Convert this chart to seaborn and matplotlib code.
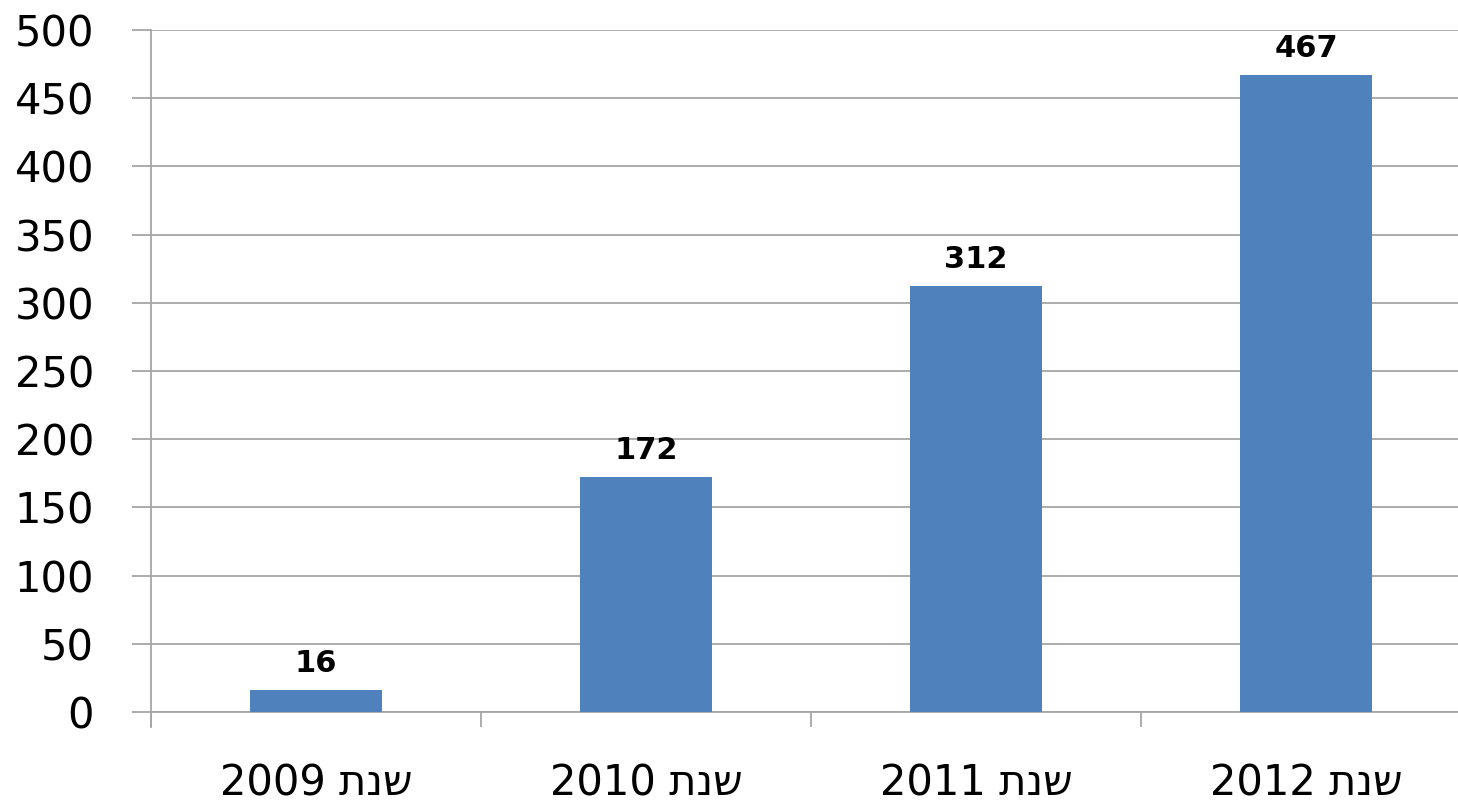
import matplotlib
matplotlib.use("Agg")
import matplotlib.pyplot as plt
import seaborn as sns
import pandas as pd
from matplotlib.ticker import FixedLocator, NullFormatter

# Data
years = ["2009", "2010", "2011", "2012"]
values = [16, 172, 312, 467]
label_word = "שנת"
# matplotlib has no bidi support: compose labels in visual order
tick_labels = [f"{y} {label_word[::-1]}" for y in years]

sns.set_theme(style="white")
plt.rcParams['font.family'] = ['DejaVu Sans']

df = pd.DataFrame({"year": years, "value": values})

W, H = 1458, 805
fig = plt.figure(figsize=(W / 100, H / 100), dpi=100)
ax = fig.add_axes([151 / W, 1 - 712 / H, 1320 / W, (712 - 30) / H])

sns.barplot(data=df, x="year", y="value", color="#4F81BD", width=0.4,
            saturation=1, ax=ax, zorder=3, linewidth=0, edgecolor="none")

ax.set_xlim(-0.5, 3.5)
ax.set_ylim(0, 500)
ax.set_yticks(range(0, 501, 50))
ax.yaxis.grid(True, color="#a6a6a6", linewidth=1.3, zorder=0)
ax.xaxis.grid(False)

# category boundary ticks as major, labels on minor
ax.xaxis.set_major_locator(FixedLocator([-0.5, 0.5, 1.5, 2.5, 3.5]))
ax.xaxis.set_major_formatter(NullFormatter())
ax.xaxis.set_minor_locator(FixedLocator(range(len(years))))
ax.set_xticklabels(tick_labels, minor=True)
ax.tick_params(axis="x", which="major", length=11, width=1.3, color="#a6a6a6",
               direction="out", bottom=True)
ax.tick_params(axis="x", which="minor", length=0, pad=36, labelsize=30,
               labelcolor="black")
ax.tick_params(axis="y", length=14, width=1.3, color="#a6a6a6", direction="out",
               left=True, pad=27, labelsize=30, labelcolor="black")

for s in ["top", "right"]:
    ax.spines[s].set_visible(False)
for s in ["left", "bottom"]:
    ax.spines[s].set_color("#a6a6a6")
    ax.spines[s].set_linewidth(1.3)
ax.spines["left"].set_bounds(-11, 500)

ax.set_xlabel("")
ax.set_ylabel("")

for i, v in enumerate(values):
    ax.annotate(str(v), (i, v), xytext=(0, 9), textcoords="offset points",
                ha="center", va="bottom", fontsize=22, fontweight="bold",
                color="black")

fig.savefig("out.png", dpi=100)
